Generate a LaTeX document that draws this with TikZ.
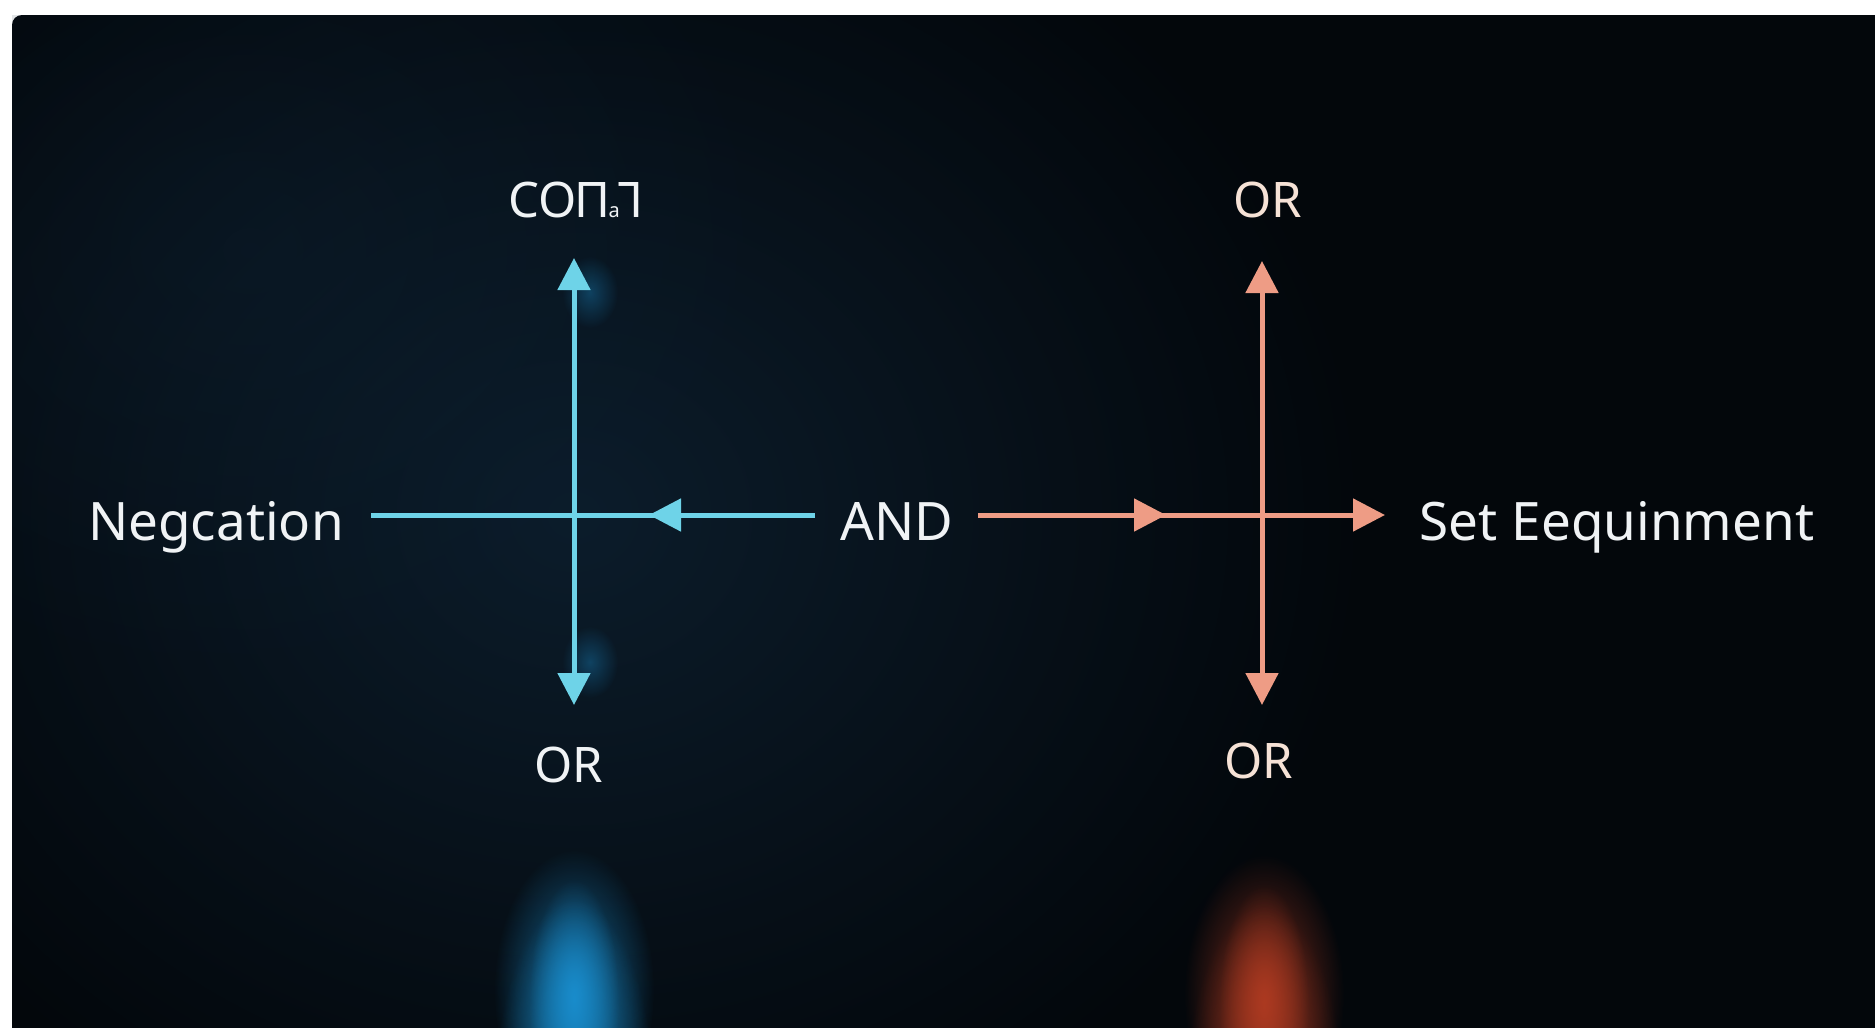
\documentclass[tikz,border=0pt]{standalone}
\usepackage{fontspec}
\usepackage{graphicx}
\setmainfont{Noto Sans}
\usetikzlibrary{arrows.meta,fadings}
\tikzfading[name=glowfade, inner color=transparent!0, outer color=transparent!100]
\definecolor{bg}{HTML}{03070B}
\definecolor{cyanarr}{HTML}{6ED3E8}
\definecolor{salmon}{HTML}{EE9C85}
\definecolor{peach}{HTML}{F6E2D6}
\definecolor{txt}{HTML}{F0F3F5}
\definecolor{glowblue}{HTML}{1A92D4}
\definecolor{glowred}{HTML}{B43C22}
\definecolor{haze}{HTML}{0F2436}
\begin{document}
\begin{tikzpicture}[x=0.5pt,y=-0.5pt,
  lbl/.style={text=txt, font=\fontsize{26.5}{30}\selectfont, anchor=base, inner sep=0pt},
  orlbl/.style={lbl, font=\fontsize{24.5}{28}\selectfont},
  bluearr/.style={draw=cyanarr, line width=2.5pt},
  redarr/.style={draw=salmon, line width=2.5pt},
  headtip/.style={-{Triangle[length=16pt,width=16pt]}},
  bothtips/.style={{Triangle[length=16pt,width=16pt]}-{Triangle[length=16pt,width=16pt]}}
]
\useasboundingbox (0,0) rectangle (1875,1028);
\fill[white] (0,0) rectangle (1875,1028);
\fill[bg] (1875,1028) -- (12,1028) [rounded corners=5pt] -- (12,15) [sharp corners] -- (1875,15) -- cycle;
\begin{scope}
  \clip (12,15) rectangle (1875,1028);
  % haze around left cross
  \fill[haze, opacity=0.75, path fading=glowfade] (574,515) ellipse (800 and 700);
  \fill[haze, opacity=0.35, path fading=glowfade] (250,250) ellipse (550 and 450);
  % small glows on left vertical
  \fill[glowblue, opacity=0.35, path fading=glowfade] (590,292) ellipse (28 and 36);
  \fill[glowblue, opacity=0.35, path fading=glowfade] (590,662) ellipse (28 and 36);
  % bottom glows (columns)
  \fill[glowblue, opacity=0.7, path fading=glowfade] (574,990) ellipse (80 and 140);
  \fill[glowblue, opacity=0.7, path fading=glowfade] (574,1100) ellipse (80 and 200);
  \fill[glowblue, opacity=0.8, path fading=glowfade] (574,1000) ellipse (45 and 120);
  \fill[glowred, opacity=0.7, path fading=glowfade] (1264,995) ellipse (80 and 140);
  \fill[glowred, opacity=0.7, path fading=glowfade] (1264,1105) ellipse (80 and 200);
  \fill[glowred, opacity=0.8, path fading=glowfade] (1264,1005) ellipse (45 and 120);
\end{scope}

% labels
\node[lbl] (neg) at (216,540) {Negcation};
\node[lbl] (and) at (897,540) {AND};
\node[lbl] (set) at (1617,540) {Set Eequinment};
\node[orlbl] (topL) at (576,217) {CO\kern-1ptП\kern-1pt{\fontsize{10}{10}\selectfont a}\kern-1pt\rotatebox[origin=c]{180}{L}};
\node[orlbl, text=peach] (topR) at (1268,217) {OR};
\node[orlbl] (botL) at (569,782) {OR};
\node[orlbl, text=peach] (botR) at (1259,778) {OR};

% coordinates
\coordinate (negE) at (371,515);
\coordinate (andW) at (815,515);
\coordinate (midL) at (649,515);
\coordinate (andE) at (978,515);
\coordinate (midR) at (1166,515);
\coordinate (setW) at (1385,515);
\coordinate (vLt) at (574,258);
\coordinate (vLb) at (574,705);
\coordinate (vRt) at (1262,261);
\coordinate (vRb) at (1262,705);

% blue cross
\draw[bluearr] (negE) -- (andW);
\draw[bluearr, headtip] (andW) -- (midL);
\draw[bluearr, bothtips] (vLt) -- (vLb);
% red cross
\draw[redarr, headtip] (andE) -- (setW);
\draw[redarr, headtip] (andE) -- (midR);
\draw[redarr, bothtips] (vRt) -- (vRb);
\end{tikzpicture}
\end{document}
